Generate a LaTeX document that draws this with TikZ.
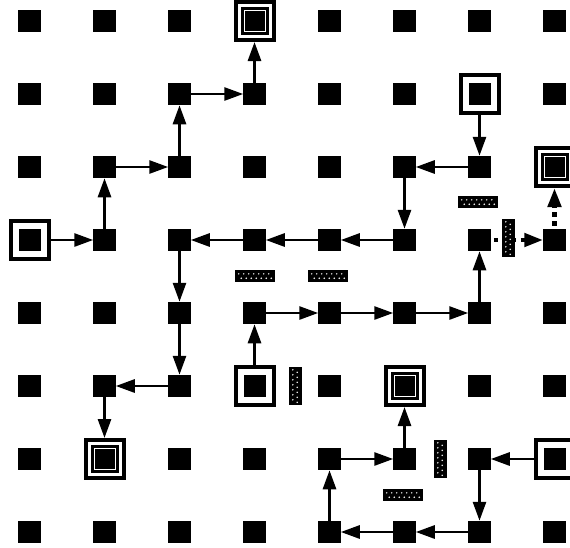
\documentclass[tikz,border=0pt]{standalone}
\usetikzlibrary{arrows.meta}
\begin{document}
\begin{tikzpicture}[x=1pt,y=-1pt,
  cell/.style={fill=black, minimum size=22.5pt, inner sep=0pt, outer sep=0pt},
  pad/.style={draw, fill=white, line width=4pt, minimum size=38pt, inner sep=0pt,
    path picture={\fill[black] (path picture bounding box.center) ++(-11pt,-11pt) rectangle ++(22pt,22pt);}},
  dpad/.style={draw, fill=white, line width=4pt, minimum size=38pt, inner sep=0pt,
    path picture={\fill[black] (path picture bounding box.center) ++(-14pt,-14pt) rectangle ++(28pt,28pt);
      \draw[white, line width=1pt] (path picture bounding box.center) ++(-10.5pt,-10.5pt) rectangle ++(21pt,21pt);}},
  obh/.style={fill=black, minimum width=40pt, minimum height=12pt, inner sep=0pt,
    path picture={\foreach \i in {-3,...,3}{
      \fill[white] (path picture bounding box.center) ++(\i*5pt+1.25pt,-2.2pt) circle (0.8pt);
      \fill[white] (path picture bounding box.center) ++(\i*5pt-1.25pt,2.2pt) circle (0.8pt);}}},
  obv/.style={fill=black, minimum width=13pt, minimum height=38pt, inner sep=0pt,
    path picture={\foreach \i in {-3,...,3}{
      \fill[white] (path picture bounding box.center) ++(-2.2pt,\i*5pt+1.25pt) circle (0.8pt);
      \fill[white] (path picture bounding box.center) ++(2.2pt,\i*5pt-1.25pt) circle (0.8pt);}}},
  link/.style={line width=2.8pt, -{Triangle[length=19pt,width=13pt]}},
  dlink/.style={line width=4.5pt, dash pattern=on 4.5pt off 4.5pt, dash phase=6pt,
    -{Triangle[length=19pt,width=13pt]}}]
\useasboundingbox (0,0) rectangle (570,547);
\clip (0,0) rectangle (570,547);

% terminal positions (column-row); no plain cell is drawn there
\expandafter\def\csname term@4-1\endcsname{}
\expandafter\def\csname term@7-2\endcsname{}
\expandafter\def\csname term@8-3\endcsname{}
\expandafter\def\csname term@1-4\endcsname{}
\expandafter\def\csname term@4-6\endcsname{}
\expandafter\def\csname term@6-6\endcsname{}
\expandafter\def\csname term@2-7\endcsname{}
\expandafter\def\csname term@8-7\endcsname{}

% grid of cells
\foreach \c in {1,...,8}{
  \foreach \r in {1,...,8}{
    \ifcsname term@\c-\r\endcsname\else
      \node[cell] (n\c\r) at ({29.5+75*(\c-1)},{21+73*(\r-1)}) {};
    \fi
  }
}

% terminals
\node[dpad] (n41) at (254.5,21)  {};
\node[pad]  (n72) at (479.5,94)  {};
\node[dpad] (n83) at (554.5,167) {};
\node[pad]  (n14) at (29.5,240)  {};
\node[pad]  (n46) at (254.5,386) {};
\node[dpad] (n66) at (404.5,386) {};
\node[dpad] (n27) at (104.5,459) {};
\node[pad]  (n87) at (554.5,459) {};

% routes
\draw[link] (n14) -- (n24);
\draw[link] (n24) -- (n23);
\draw[link] (n23) -- (n33);
\draw[link] (n33) -- (n32);
\draw[link] (n32) -- (n42);
\draw[link] (n42) -- (n41);

\draw[link] (n72) -- (n73);
\draw[link] (n73) -- (n63);
\draw[link] (n63) -- (n64);
\draw[link] (n64) -- (n54);
\draw[link] (n54) -- (n44);
\draw[link] (n44) -- (n34);
\draw[link] (n34) -- (n35);
\draw[link] (n35) -- (n36);
\draw[link] (n36) -- (n26);
\draw[link] (n26) -- (n27);

\draw[link] (n46) -- (n45);
\draw[link] (n45) -- (n55);
\draw[link] (n55) -- (n65);
\draw[link] (n65) -- (n75);
\draw[link] (n75) -- (n74);
\draw[dlink] (n74) -- (n84);
\draw[dlink] (n84) -- (n83);

\draw[link] (n87) -- (n77);
\draw[link] (n77) -- (n78);
\draw[link] (n78) -- (n68);
\draw[link] (n68) -- (n58);
\draw[link] (n58) -- (n57);
\draw[link] (n57) -- (n67);
\draw[link] (n67) -- (n66);

% obstacles
\node[obh] (o1) at (478,202) {};
\node[obh] (o2) at (255,276) {};
\node[obh] (o3) at (328,276) {};
\node[obh] (o4) at (403,495) {};
\node[obv] (o5) at (508,238) {};
\node[obv] (o6) at (295,386) {};
\node[obv] (o7) at (440,459) {};
\end{tikzpicture}
\end{document}
